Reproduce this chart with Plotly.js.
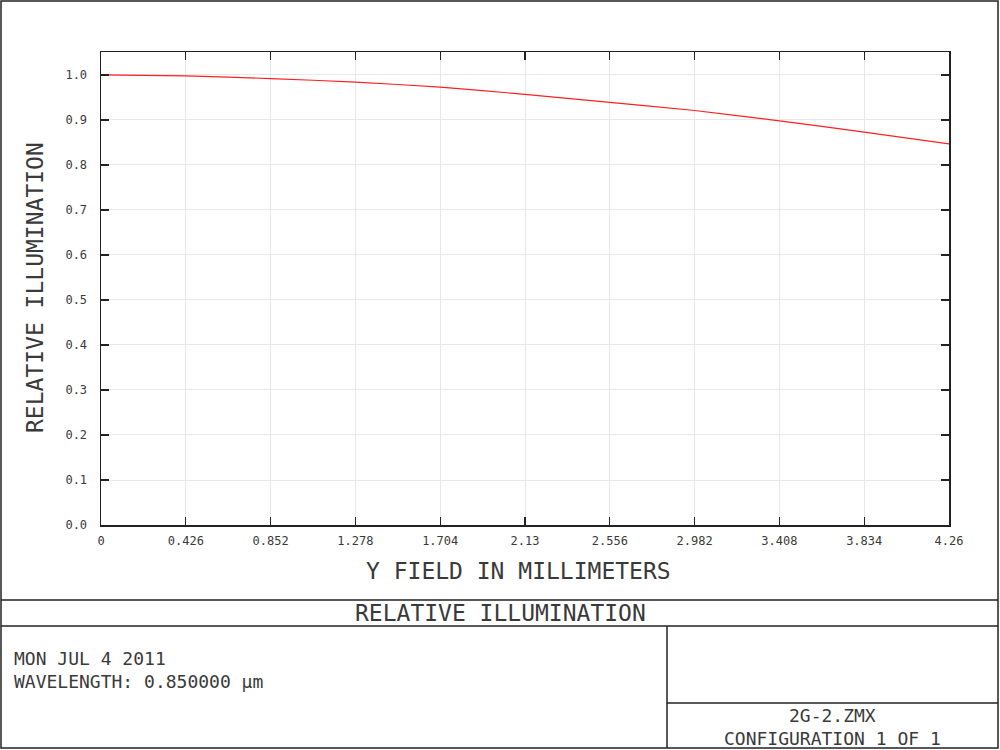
<!DOCTYPE html>
<html>
<head>
<meta charset="utf-8">
<script src="https://cdn.plot.ly/plotly-3.0.1.min.js"></script>
<style>
html,body{margin:0;padding:0;background:#fff;}
#chart{width:1000px;height:750px;}
</style>
</head>
<body>
<div id="chart"></div>
<script>
// Data
const yFieldMm = [0, 0.426, 0.852, 1.278, 1.704, 2.13, 2.556, 2.982, 3.408, 3.834, 4.26];
const relativeIllumination = [1.000, 0.998, 0.992, 0.984, 0.973, 0.957, 0.939, 0.921, 0.898, 0.873, 0.847];
const xTickVals = [0, 0.426, 0.852, 1.278, 1.704, 2.13, 2.556, 2.982, 3.408, 3.834, 4.26];
const xTickText = ["0", "0.426", "0.852", "1.278", "1.704", "2.13", "2.556", "2.982", "3.408", "3.834", "4.26"];
const yTickVals = [0, 0.1, 0.2, 0.3, 0.4, 0.5, 0.6, 0.7, 0.8, 0.9, 1.0];
const yTickText = ["0.0", "0.1", "0.2", "0.3", "0.4", "0.5", "0.6", "0.7", "0.8", "0.9", "1.0"];
const chartTitle = "RELATIVE ILLUMINATION";
const xTitle = "Y FIELD IN MILLIMETERS";
const yTitle = "RELATIVE ILLUMINATION";
const infoLines = ["MON JUL 4 2011", "WAVELENGTH: 0.850000 \u00b5m"];
const fileName = "2G-2.ZMX";
const configText = "CONFIGURATION 1 OF 1";

// plot area in pixels
const L = 101, R = 949, T = 52, B = 525;
const W = 1000, H = 750;
const px = x => (x - L) / (R - L);
const py = y => (B - y) / (B - T);

const FONT = "DejaVu Sans Mono, monospace";
const TXT = "#3a3a3a";
const lineStyle = {color: "#222", width: 1.5};

function seg(x0, y0, x1, y1) {
  return {type: "line", xref: "paper", yref: "paper", x0: px(x0), y0: py(y0), x1: px(x1), y1: py(y1), line: lineStyle, layer: "above"};
}

const shapes = [
  {type: "rect", xref: "paper", yref: "paper", x0: px(1), y0: py(1), x1: px(998), y1: py(748), line: lineStyle, fillcolor: "rgba(0,0,0,0)"},
  seg(1, 600, 998, 600),
  seg(1, 626, 998, 626),
  seg(667, 626, 667, 748),
  seg(667, 703, 998, 703)
];

function ann(text, x, y, size, xanchor, extra) {
  return Object.assign({text: text, xref: "paper", yref: "paper", x: px(x), y: py(y), xanchor: xanchor, yanchor: "middle",
    showarrow: false, borderpad: 0, font: {family: FONT, size: size, color: TXT}}, extra || {});
}

const annotations = [
  ann(xTitle, 518, 571, 23, "center"),
  ann(yTitle, 35, 288, 23, "center", {textangle: -90}),
  ann(chartTitle, 500, 613, 23, "center"),
  ann(infoLines.join("<br>"), 13, 670, 18, "left", {align: "left"}),
  ann(fileName + "<br>" + configText, 832, 727, 18, "center", {align: "center"})
];

const trace = {
  x: yFieldMm,
  y: relativeIllumination,
  type: "scatter",
  mode: "lines",
  line: {color: "#ff2020", width: 1.2, shape: "spline", smoothing: 0.6},
  hoverinfo: "skip"
};

const axisCommon = {
  showline: true, linecolor: "#222", linewidth: 1.5, mirror: "ticks",
  ticks: "inside", ticklen: 8, tickcolor: "#222", tickwidth: 1.2,
  showgrid: true, gridcolor: "#e8e8e8", gridwidth: 1,
  zeroline: false, tickfont: {family: FONT, size: 12, color: TXT}
};

const layout = {
  width: W, height: H,
  margin: {l: L, r: W - R, t: T, b: H - B},
  paper_bgcolor: "#fff", plot_bgcolor: "#fff",
  showlegend: false,
  xaxis: Object.assign({}, axisCommon, {range: [0, 4.26], tickmode: "array", tickvals: xTickVals, ticktext: xTickText, ticklabelstandoff: 4}),
  yaxis: Object.assign({}, axisCommon, {range: [0, 1.051], tickmode: "array", tickvals: yTickVals, ticktext: yTickText, ticklabelstandoff: 10}),
  shapes: shapes,
  annotations: annotations
};

Plotly.newPlot("chart", [trace], layout, {staticPlot: true, displayModeBar: false});
</script>
</body>
</html>
